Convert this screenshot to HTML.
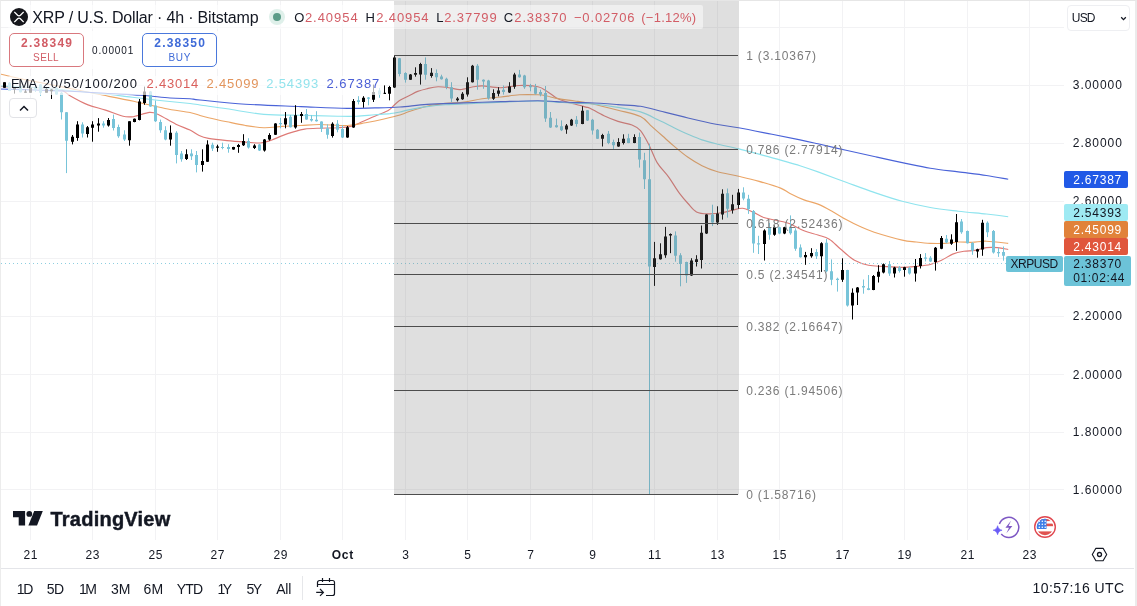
<!DOCTYPE html>
<html lang="en"><head><meta charset="utf-8"><title>XRP / U.S. Dollar · 4h · Bitstamp</title><style>
html,body{margin:0;padding:0;background:#fff}
body{width:1137px;height:606px;overflow:hidden;font-family:"Liberation Sans",sans-serif}
#app{position:relative;width:1137px;height:606px;overflow:hidden;background:#fff}
#frame{position:absolute;left:0;top:0;width:1134px;height:605px;border-top:1px solid #e6e6e6;border-left:1px solid #ececec;border-right:2px solid #ebebeb;pointer-events:none}
#chart{position:absolute;left:0;top:0}
.t{position:absolute;line-height:1;white-space:nowrap}
.abs{position:absolute}
.btn{position:absolute;box-sizing:border-box;border:1px solid #ccc;border-radius:5px}
.plab{position:absolute;border-radius:2px}
.lgbg{position:absolute;background:rgba(255,255,255,.68);border-radius:2px}
</style></head>
<body><div id="app">
<svg id="chart" width="1137" height="606" viewBox="0 0 1137 606">
<g stroke="#f2f2f4" stroke-width="1" shape-rendering="crispEdges"><line x1="30.5" y1="1" x2="30.5" y2="540"/><line x1="92.5" y1="1" x2="92.5" y2="540"/><line x1="155.5" y1="1" x2="155.5" y2="540"/><line x1="217.5" y1="1" x2="217.5" y2="540"/><line x1="280.5" y1="1" x2="280.5" y2="540"/><line x1="342.5" y1="1" x2="342.5" y2="540"/><line x1="405.5" y1="1" x2="405.5" y2="540"/><line x1="467.5" y1="1" x2="467.5" y2="540"/><line x1="530.5" y1="1" x2="530.5" y2="540"/><line x1="592.5" y1="1" x2="592.5" y2="540"/><line x1="654.5" y1="1" x2="654.5" y2="540"/><line x1="717.5" y1="1" x2="717.5" y2="540"/><line x1="779.5" y1="1" x2="779.5" y2="540"/><line x1="842.5" y1="1" x2="842.5" y2="540"/><line x1="904.5" y1="1" x2="904.5" y2="540"/><line x1="967.5" y1="1" x2="967.5" y2="540"/><line x1="1029.5" y1="1" x2="1029.5" y2="540"/><line x1="1" y1="27.5" x2="1064" y2="27.5"/><line x1="1" y1="85.5" x2="1064" y2="85.5"/><line x1="1" y1="143.5" x2="1064" y2="143.5"/><line x1="1" y1="201.5" x2="1064" y2="201.5"/><line x1="1" y1="258.5" x2="1064" y2="258.5"/><line x1="1" y1="316.5" x2="1064" y2="316.5"/><line x1="1" y1="374.5" x2="1064" y2="374.5"/><line x1="1" y1="432.5" x2="1064" y2="432.5"/><line x1="1" y1="489.5" x2="1064" y2="489.5"/></g>
<path d="M0.0 86.5C5.0 86.7 21.7 87.2 30.0 87.5C38.3 87.8 44.7 88.1 50.0 88.5C55.3 88.9 58.2 88.7 61.6 89.9C65.0 91.2 66.0 93.5 70.4 96.0C74.8 98.5 82.2 102.6 88.0 104.9C93.8 107.2 99.7 108.2 105.5 110.1C111.3 112.0 118.4 115.2 123.1 116.3C127.8 117.4 129.3 117.2 133.7 116.6C138.1 115.9 145.4 112.8 149.5 112.4C153.6 112.1 153.9 112.5 158.3 114.5C162.7 116.5 170.6 121.6 175.9 124.2C181.2 126.8 186.1 128.2 190.0 130.1C193.9 132.0 196.1 134.2 199.2 135.6C202.3 137.0 203.9 137.6 208.5 138.4C213.1 139.2 220.8 140.0 227.0 140.6C233.2 141.2 240.0 141.7 245.5 142.1C251.0 142.5 255.9 143.3 260.2 143.0C264.5 142.7 267.6 141.4 271.3 140.2C275.0 139.0 278.7 137.0 282.4 135.6C286.1 134.2 289.8 133.0 293.5 131.9C297.2 130.8 300.3 129.7 304.6 129.1C308.9 128.5 313.8 128.4 319.4 128.2C324.9 128.0 332.7 128.0 337.9 127.7C343.1 127.4 347.1 127.2 350.8 126.4C354.5 125.6 356.0 124.4 360.0 122.7C364.0 121.0 370.2 118.2 374.8 116.2C379.4 114.2 384.7 112.4 387.8 110.7C390.9 109.0 391.4 107.7 393.3 106.0C395.2 104.3 396.7 102.4 399.2 100.7C401.7 99.0 405.4 97.5 408.5 96.0C411.6 94.5 414.6 92.6 417.7 91.4C420.8 90.2 423.6 89.5 427.0 88.7C430.4 87.9 434.1 86.9 438.1 86.8C442.1 86.7 447.3 87.6 451.0 88.1C454.7 88.6 456.5 89.8 460.2 89.6C463.9 89.4 469.5 87.4 473.2 86.8C476.9 86.2 477.8 85.8 482.4 85.9C487.0 86.1 494.7 87.8 500.9 87.7C507.1 87.6 513.2 85.7 519.4 85.5C525.6 85.3 533.3 85.8 537.9 86.8C542.5 87.8 544.0 89.6 547.1 91.4C550.2 93.2 553.3 96.2 556.4 97.9C559.5 99.6 562.5 100.6 565.6 101.6C568.7 102.6 571.4 103.1 574.8 104.0C578.2 104.9 583.4 106.4 585.9 107.1C588.4 107.8 587.0 106.8 590.0 108.2C593.0 109.7 599.3 113.6 604.0 115.8C608.7 118.0 613.3 119.9 618.0 121.4C622.7 122.9 628.2 123.5 632.0 125.0C635.8 126.5 637.7 127.3 640.5 130.6C643.3 133.9 646.1 139.3 648.9 144.7C651.7 150.1 654.0 157.5 657.3 162.9C660.6 168.3 664.8 171.8 668.5 176.9C672.2 182.0 676.5 189.3 679.7 193.7C683.0 198.1 685.2 200.5 688.0 203.5C690.8 206.5 693.2 210.2 696.5 211.9C699.8 213.6 703.5 213.8 707.7 213.9C711.9 214.1 717.6 213.5 721.8 212.8C726.0 212.2 729.5 210.8 733.0 210.0C736.5 209.2 739.5 208.0 742.8 208.3C746.1 208.6 749.1 210.4 752.6 211.9C756.1 213.4 759.1 215.9 763.8 217.5C768.5 219.1 776.2 220.1 780.6 221.2C785.0 222.2 786.1 222.2 790.0 223.8C793.9 225.4 799.3 228.9 804.0 230.8C808.7 232.7 813.8 233.6 818.0 235.0C822.2 236.4 825.5 236.9 829.3 239.2C833.0 241.5 836.3 245.5 840.5 249.0C844.7 252.5 849.8 257.6 854.5 260.3C859.2 263.0 863.8 264.3 868.5 265.3C873.2 266.3 877.0 266.1 882.6 266.4C888.2 266.7 896.6 267.3 902.2 267.3C907.8 267.3 911.5 266.9 916.2 266.4C920.9 265.9 926.1 265.5 930.3 264.5C934.5 263.5 937.8 262.0 941.5 260.3C945.2 258.6 949.0 255.6 952.7 254.1C956.4 252.6 960.2 251.9 963.9 251.3C967.6 250.7 971.4 251.0 975.1 250.4C978.9 249.8 982.6 248.1 986.4 247.6C990.1 247.1 994.0 247.3 997.6 247.6C1001.2 247.9 1006.4 249.2 1008.2 249.5" fill="none" stroke="#de7a76" stroke-width="1.15" stroke-linejoin="round"/>
<path d="M0.0 74.0C3.2 74.8 12.6 77.1 19.3 78.5C26.0 79.9 33.2 81.2 40.0 82.5C46.8 83.8 53.3 85.2 60.0 86.5C66.7 87.8 73.6 89.2 80.0 90.5C86.4 91.8 89.5 92.5 98.5 94.3C107.5 96.1 122.6 98.9 133.7 101.3C144.8 103.7 155.6 106.6 165.0 108.5C174.4 110.4 184.2 111.3 190.0 112.5C195.8 113.7 196.9 114.6 200.0 115.5C203.1 116.4 204.0 116.7 208.5 117.7C213.0 118.8 220.8 120.5 227.0 121.8C233.2 123.1 239.3 124.5 245.5 125.5C251.7 126.5 257.8 127.5 263.9 127.7C270.0 127.9 276.2 126.8 282.4 126.4C288.6 126.0 294.7 125.8 300.9 125.5C307.1 125.2 311.7 124.5 319.4 124.5C327.1 124.5 339.4 125.8 347.1 125.5C354.8 125.2 359.5 123.8 365.6 122.7C371.8 121.6 378.3 120.3 384.0 119.0C389.7 117.7 395.9 116.2 400.0 115.0C404.1 113.8 404.0 113.3 408.5 111.8C413.0 110.3 420.8 107.6 427.0 106.2C433.2 104.8 439.4 104.1 445.5 103.4C451.6 102.7 457.8 102.9 463.9 102.1C470.0 101.3 476.2 99.6 482.4 98.8C488.6 98.0 494.7 97.7 500.9 97.0C507.1 96.3 513.2 95.2 519.4 94.8C525.6 94.4 533.3 94.6 537.9 94.8C542.5 95.0 544.0 95.4 547.1 96.0C550.2 96.6 551.8 97.6 556.4 98.4C561.0 99.2 569.2 100.2 574.8 101.0C580.4 101.8 582.8 102.0 590.0 103.5C597.2 105.0 609.6 108.0 618.0 110.2C626.4 112.4 634.9 113.9 640.5 116.6C646.1 119.3 648.0 123.1 651.7 126.4C655.4 129.7 659.2 133.0 662.9 136.3C666.6 139.6 669.8 142.6 674.0 146.1C678.2 149.6 683.3 154.0 688.0 157.3C692.7 160.6 697.3 163.4 702.0 165.7C706.7 168.0 709.9 169.5 716.0 171.3C722.1 173.1 731.6 174.7 738.6 176.3C745.6 177.9 751.2 179.1 758.2 181.1C765.2 183.1 775.3 186.0 780.6 188.1C785.9 190.2 786.1 191.5 790.0 193.5C793.9 195.5 799.3 198.1 804.0 199.9C808.7 201.7 813.3 202.2 818.0 204.1C822.7 206.0 827.3 208.6 832.0 211.2C836.7 213.8 841.4 217.0 846.1 219.6C850.8 222.2 855.4 224.5 860.1 226.6C864.8 228.7 867.2 229.9 874.2 232.2C881.2 234.4 895.2 238.5 902.2 240.1C909.2 241.7 911.5 241.4 916.2 242.0C920.9 242.6 925.6 243.2 930.3 243.4C935.0 243.6 939.6 243.6 944.3 243.4C949.0 243.2 953.6 242.2 958.3 242.0C963.0 241.8 967.6 242.4 972.3 242.3C977.0 242.2 980.4 241.0 986.4 241.2C992.4 241.4 1004.6 243.0 1008.2 243.4" fill="none" stroke="#eca667" stroke-width="1.15" stroke-linejoin="round"/>
<path d="M0.0 86.0C5.8 86.2 23.3 86.8 35.0 87.5C46.7 88.2 59.2 89.5 70.0 90.5C80.8 91.5 91.2 92.6 100.0 93.5C108.8 94.4 113.0 94.9 123.0 96.1C133.0 97.3 148.8 99.3 160.0 100.5C171.2 101.7 183.3 102.8 190.0 103.5C196.7 104.2 193.8 104.1 200.0 105.0C206.2 105.9 216.3 107.2 227.0 108.8C237.7 110.4 251.6 113.3 263.9 114.4C276.2 115.5 288.6 115.0 300.9 115.3C313.2 115.6 328.6 116.0 337.9 116.2C347.1 116.4 350.2 116.5 356.4 116.2C362.5 116.0 369.2 115.1 374.8 114.7C380.4 114.3 385.8 114.0 390.0 113.6C394.2 113.1 396.9 112.6 400.0 112.0C403.1 111.4 404.0 110.8 408.5 109.9C413.0 109.0 420.8 107.5 427.0 106.6C433.2 105.7 439.4 105.1 445.5 104.7C451.6 104.3 454.7 104.4 463.9 104.0C473.1 103.6 488.6 102.6 500.9 102.1C513.2 101.6 528.6 101.0 537.9 101.0C547.1 101.0 550.2 101.7 556.4 102.1C562.5 102.5 569.2 103.0 574.8 103.3C580.4 103.6 582.8 103.0 590.0 103.7C597.2 104.4 609.6 106.0 618.0 107.4C626.4 108.8 633.5 109.7 640.5 111.9C647.5 114.1 654.4 118.2 660.0 120.8C665.6 123.4 669.3 125.5 674.0 127.8C678.7 130.1 683.3 132.3 688.0 134.3C692.7 136.3 697.3 138.3 702.0 139.9C706.7 141.5 709.9 142.3 716.0 143.8C722.1 145.3 731.6 147.2 738.6 148.9C745.6 150.6 751.0 152.0 758.0 153.9C765.0 155.8 773.6 158.1 780.6 160.1C787.6 162.1 793.8 163.7 800.0 165.7C806.2 167.7 810.3 169.1 818.0 171.9C825.7 174.7 836.7 178.9 846.1 182.3C855.5 185.7 864.9 189.2 874.2 192.4C883.6 195.6 892.9 198.8 902.2 201.3C911.6 203.8 920.9 205.8 930.3 207.5C939.6 209.2 948.9 210.1 958.3 211.2C967.6 212.3 978.1 213.1 986.4 214.0C994.7 214.9 1004.6 216.2 1008.2 216.7" fill="none" stroke="#8fe4ee" stroke-width="1.15" stroke-linejoin="round"/>
<path d="M0.0 89.0C5.8 89.2 23.3 89.6 35.0 90.0C46.7 90.4 58.3 90.8 70.0 91.3C81.7 91.8 93.2 92.6 105.0 93.3C116.8 94.0 129.9 94.4 140.7 95.2C151.5 96.0 161.8 97.4 170.0 98.0C178.2 98.6 185.0 98.4 190.0 98.7C195.0 99.0 190.8 99.1 200.0 100.0C209.2 100.9 228.7 103.1 245.5 104.2C262.3 105.3 284.0 105.9 300.9 106.6C317.8 107.3 334.8 108.2 347.1 108.4C359.4 108.6 366.0 108.1 374.8 107.9C383.6 107.7 391.3 107.6 400.0 107.0C408.7 106.4 416.4 105.1 427.0 104.4C437.6 103.7 451.6 103.4 463.9 102.9C476.2 102.4 488.6 102.0 500.9 101.6C513.2 101.2 528.6 100.7 537.9 100.7C547.1 100.7 550.2 101.3 556.4 101.6C562.5 101.9 569.2 102.4 574.8 102.6C580.4 102.8 582.8 102.5 590.0 102.8C597.2 103.1 609.6 104.0 618.0 104.6C626.4 105.2 633.5 105.2 640.5 106.3C647.5 107.4 652.1 109.0 660.0 111.0C667.9 113.0 678.7 115.8 688.0 118.0C697.3 120.2 707.6 122.6 716.0 124.2C724.4 125.8 729.3 126.1 738.6 127.8C747.9 129.5 761.8 132.3 772.0 134.3C782.2 136.3 792.3 138.3 800.0 139.9C807.7 141.5 810.3 142.1 818.0 143.8C825.7 145.5 836.7 148.2 846.1 150.3C855.5 152.4 864.9 154.4 874.2 156.5C883.6 158.6 892.9 160.7 902.2 162.6C911.6 164.5 920.9 166.6 930.3 168.2C939.6 169.8 948.9 170.7 958.3 171.9C967.6 173.1 978.1 174.3 986.4 175.5C994.7 176.7 1004.6 178.7 1008.2 179.3" fill="none" stroke="#4a63d8" stroke-width="1.15" stroke-linejoin="round"/>
<line x1="1" y1="263.5" x2="1064" y2="263.5" stroke="#8ecfe0" stroke-width="1" stroke-dasharray="1 3" shape-rendering="crispEdges"/>
<g id="candles"><path d="M9.5 82.0V91.0M20.5 85.9V92.5M35.5 86.0V92.0M40.5 84.0V95.9M56.5 87.5V94.7M61.5 92.0V119.5M66.5 112.0V173.1M82.5 122.3V137.5M103.5 121.2V127.7M113.5 114.6V130.5M118.5 124.6V137.8M124.5 130.3V141.0M150.5 91.0V106.8M155.5 100.6V122.0M160.5 119.6V132.8M165.5 126.2V140.3M176.5 131.2V163.4M181.5 151.0V161.7M191.5 149.3V160.0M196.5 151.0V172.4M212.5 142.7V151.0M222.5 142.7V149.3M228.5 144.2V152.7M248.5 138.2V148.6M259.5 144.0V151.0M280.5 117.9V128.3M290.5 115.0V127.5M306.5 109.0V119.8M311.5 115.3V121.6M316.5 111.2V121.6M321.5 121.3V132.0M327.5 124.3V138.7M337.5 120.1V132.3M342.5 125.3V138.0M358.5 96.2V104.4M368.5 97.0V105.3M379.5 87.9V97.8M399.5 57.9V76.4M405.5 72.2V82.6M425.5 57.4V79.7M436.5 69.4V81.3M441.5 74.7V79.6M446.5 77.7V89.2M451.5 82.2V102.0M477.5 64.1V89.7M483.5 79.4V88.8M488.5 79.8V99.6M503.5 85.5V94.6M519.5 69.9V77.6M524.5 74.8V88.8M530.5 83.9V91.3M535.5 83.9V94.6M540.5 89.7V96.3M545.5 86.0V121.9M550.5 112.0V128.0M556.5 118.6V127.6M561.5 120.4V131.1M576.5 116.1V126.7M587.5 110.0V121.0M592.5 118.9V134.6M597.5 129.0V139.0M608.5 131.0V144.2M613.5 139.6V149.5M628.5 133.8V143.2M639.5 132.6V167.6M644.5 152.8V189.0M649.5 143.7V494.0M675.5 231.4V261.7M680.5 253.2V286.3M686.5 261.7V282.9M712.5 204.7V226.1M727.5 188.5V217.6M743.5 187.3V200.3M748.5 194.8V213.9M753.5 210.0V252.8M758.5 235.8V254.0M769.5 222.9V239.7M779.5 226.8V234.2M790.5 215.4V234.7M795.5 228.3V250.8M800.5 244.4V257.6M816.5 249.1V259.0M826.5 239.0V272.3M831.5 259.4V285.2M837.5 277.7V291.6M847.5 269.8V306.6M863.5 279.5V293.7M868.5 275.0V290.2M889.5 261.0V275.9M899.5 266.0V272.6M909.5 266.8V274.6M925.5 253.1V261.4M930.5 256.1V261.9M946.5 235.0V243.2M961.5 219.0V233.8M967.5 230.5V243.6M972.5 242.1V254.8M987.5 221.4V237.1M993.5 230.0V253.6M998.5 247.8V256.9M1003.5 246.5V260.7" stroke="#78c4d9" stroke-width="1" fill="none"/><path d="M8 82.7h3V90.9h-3zM19 86.0h3V92.3h-3zM34 87.0h3V90.0h-3zM39 84.5h3V92.7h-3zM55 87.7h3V94.5h-3zM60 92.7h3V112.2h-3zM65 112.2h3V140.8h-3zM81 124.5h3V133.5h-3zM102 123.6h3V125.4h-3zM112 118.9h3V128.0h-3zM117 127.0h3V136.2h-3zM123 134.5h3V139.4h-3zM149 91.5h3V106.4h-3zM154 105.6h3V121.3h-3zM159 122.0h3V130.3h-3zM164 130.3h3V139.4h-3zM175 132.8h3V155.1h-3zM180 153.5h3V159.2h-3zM190 153.5h3V156.3h-3zM195 155.1h3V165.0h-3zM211 144.7h3V148.5h-3zM221 146.9h3V147.9h-3zM227 147.0h3V149.0h-3zM247 140.9h3V147.6h-3zM258 144.6h3V150.5h-3zM279 123.0h3V124.3h-3zM289 116.8h3V127.2h-3zM305 113.9h3V119.4h-3zM310 118.9h3V120.4h-3zM315 119.8h3V121.3h-3zM320 121.6h3V128.7h-3zM326 128.3h3V134.7h-3zM336 123.8h3V129.8h-3zM341 129.0h3V137.6h-3zM357 100.3h3V102.0h-3zM367 97.5h3V98.8h-3zM378 90.4h3V94.5h-3zM398 58.2h3V73.9h-3zM404 73.0h3V79.7h-3zM424 64.0h3V74.7h-3zM435 73.0h3V77.2h-3zM440 76.4h3V79.3h-3zM445 78.8h3V87.1h-3zM450 87.2h3V98.5h-3zM476 65.7h3V79.8h-3zM482 79.8h3V81.4h-3zM487 80.6h3V98.2h-3zM502 89.7h3V92.1h-3zM518 74.5h3V77.3h-3zM523 75.6h3V87.2h-3zM529 85.5h3V87.2h-3zM534 87.2h3V93.8h-3zM539 92.1h3V94.6h-3zM544 93.0h3V118.6h-3zM549 117.7h3V127.6h-3zM555 125.2h3V127.3h-3zM560 126.2h3V130.3h-3zM575 119.8h3V123.9h-3zM586 110.2h3V120.6h-3zM591 119.8h3V130.5h-3zM596 129.7h3V138.7h-3zM607 133.8h3V142.9h-3zM612 142.0h3V145.3h-3zM627 138.2h3V142.9h-3zM638 137.1h3V159.4h-3zM643 160.2h3V179.2h-3zM648 179.2h3V266.5h-3zM674 235.4h3V255.8h-3zM679 255.2h3V264.1h-3zM685 262.1h3V275.6h-3zM711 214.6h3V222.5h-3zM726 193.2h3V208.7h-3zM742 192.4h3V198.4h-3zM747 198.8h3V209.0h-3zM752 210.9h3V243.6h-3zM757 243.3h3V244.6h-3zM768 227.2h3V234.7h-3zM778 227.2h3V233.6h-3zM789 226.8h3V233.2h-3zM794 230.4h3V248.7h-3zM799 247.6h3V257.3h-3zM815 251.9h3V256.2h-3zM825 242.7h3V271.2h-3zM830 271.2h3V279.8h-3zM836 278.7h3V280.0h-3zM846 270.1h3V305.6h-3zM862 286.1h3V287.4h-3zM867 288.2h3V289.9h-3zM888 264.3h3V273.4h-3zM898 267.6h3V270.9h-3zM908 268.0h3V273.4h-3zM924 257.4h3V258.7h-3zM929 257.7h3V261.4h-3zM945 238.8h3V242.6h-3zM960 221.4h3V232.2h-3zM966 231.0h3V243.2h-3zM971 242.9h3V250.8h-3zM986 222.8h3V232.2h-3zM992 231.0h3V252.5h-3zM997 252.0h3V253.2h-3zM1002 252.0h3V255.8h-3z" fill="#78c4d9"/><path d="M4.5 82.3V87.8M14.5 87.7V93.6M25.5 89.5V92.7M30.5 85.0V92.7M46.5 87.7V92.7M51.5 89.0V99.0M72.5 135.0V144.4M77.5 121.2V140.8M87.5 126.0V137.5M92.5 121.2V141.7M98.5 118.1V131.7M108.5 118.0V126.6M129.5 121.3V145.7M134.5 118.5V122.3M139.5 99.0V120.4M144.5 86.6V104.8M170.5 125.4V145.7M186.5 149.3V160.0M202.5 149.3V171.6M207.5 140.3V162.0M217.5 144.7V151.8M233.5 146.8V149.8M238.5 143.9V152.8M243.5 134.2V146.0M254.5 144.2V149.0M264.5 139.0V151.6M269.5 133.2V140.6M275.5 123.2V135.0M285.5 112.0V128.3M295.5 105.2V128.7M301.5 112.0V122.8M332.5 122.3V137.6M347.5 126.0V137.8M353.5 99.1V127.8M363.5 96.2V107.7M373.5 84.6V102.0M384.5 85.4V94.0M389.5 85.9V100.3M394.5 55.2V88.0M410.5 74.0V80.0M415.5 67.3V76.7M420.5 62.8V84.6M431.5 68.1V77.7M457.5 97.1V101.5M462.5 92.1V99.9M467.5 77.3V96.6M472.5 64.9V82.5M493.5 89.3V99.9M498.5 87.2V96.3M509.5 82.2V93.0M514.5 72.8V88.8M566.5 124.0V133.8M571.5 118.9V126.0M582.5 106.2V124.2M602.5 133.8V146.5M618.5 138.2V146.8M623.5 134.3V144.5M634.5 134.3V143.2M654.5 241.9V285.9M660.5 243.3V259.6M665.5 226.9V257.8M670.5 233.4V253.2M691.5 258.2V276.0M696.5 255.2V266.5M701.5 225.5V268.5M706.5 214.2V234.0M717.5 206.3V224.9M722.5 189.3V219.6M732.5 194.8V213.6M738.5 188.9V208.7M764.5 229.3V260.5M774.5 225.5V235.8M784.5 226.8V234.2M805.5 251.9V264.8M811.5 248.2V257.7M821.5 242.2V271.9M842.5 258.3V281.9M852.5 288.4V319.5M857.5 287.0V305.0M873.5 275.0V290.2M878.5 265.2V282.5M883.5 263.5V273.4M894.5 266.8V277.5M904.5 266.8V276.7M915.5 259.0V281.6M920.5 254.1V268.5M935.5 247.0V270.6M941.5 236.0V249.2M951.5 234.3V244.9M956.5 214.0V250.8M977.5 248.7V257.7M982.5 219.8V255.8" stroke="#000000" stroke-width="1" fill="none"/><path d="M3 82.3h3V87.8h-3zM13 87.7h3V89.5h-3zM24 91.5h3V92.7h-3zM29 87.7h3V92.7h-3zM45 89.0h3V92.7h-3zM50 89.5h3V91.3h-3zM71 136.8h3V141.7h-3zM76 124.5h3V138.0h-3zM86 127.2h3V133.9h-3zM91 124.5h3V127.7h-3zM97 123.6h3V125.4h-3zM107 120.0h3V125.4h-3zM128 121.3h3V140.3h-3zM133 118.8h3V122.0h-3zM138 101.5h3V120.0h-3zM143 91.5h3V103.1h-3zM169 132.8h3V139.4h-3zM185 154.3h3V158.9h-3zM201 160.9h3V165.0h-3zM206 144.4h3V161.7h-3zM216 146.4h3V147.7h-3zM232 147.1h3V149.5h-3zM237 145.0h3V147.1h-3zM242 140.9h3V145.3h-3zM253 145.6h3V148.0h-3zM263 139.4h3V150.5h-3zM268 135.0h3V139.4h-3zM274 123.4h3V134.7h-3zM284 118.3h3V124.6h-3zM294 115.3h3V127.5h-3zM300 113.9h3V116.0h-3zM331 123.8h3V136.1h-3zM346 127.2h3V137.4h-3zM352 101.1h3V127.5h-3zM362 97.8h3V102.0h-3zM372 92.0h3V99.8h-3zM383 92.7h3V93.9h-3zM388 87.1h3V93.7h-3zM393 57.4h3V87.6h-3zM409 74.4h3V79.7h-3zM414 73.0h3V74.7h-3zM419 64.0h3V74.4h-3zM430 72.7h3V76.0h-3zM456 98.5h3V100.2h-3zM461 93.8h3V99.2h-3zM466 82.2h3V94.6h-3zM471 65.7h3V82.2h-3zM492 93.0h3V98.7h-3zM497 90.5h3V93.8h-3zM508 86.4h3V92.6h-3zM513 74.5h3V86.7h-3zM565 125.4h3V129.5h-3zM570 119.8h3V125.5h-3zM581 110.7h3V123.9h-3zM601 134.9h3V138.7h-3zM617 142.0h3V146.5h-3zM622 138.7h3V142.9h-3zM633 137.1h3V142.9h-3zM653 258.2h3V267.1h-3zM659 254.2h3V259.2h-3zM664 236.4h3V255.2h-3zM669 234.0h3V235.6h-3zM690 260.5h3V275.6h-3zM695 259.2h3V262.1h-3zM700 232.8h3V260.1h-3zM705 214.6h3V233.4h-3zM716 213.6h3V222.5h-3zM721 193.8h3V214.6h-3zM731 204.3h3V210.2h-3zM737 192.4h3V205.1h-3zM763 230.4h3V243.9h-3zM773 227.2h3V234.7h-3zM783 227.2h3V233.6h-3zM804 255.1h3V257.3h-3zM810 253.0h3V256.2h-3zM820 243.3h3V256.2h-3zM841 270.1h3V279.8h-3zM851 292.7h3V305.6h-3zM856 287.4h3V292.5h-3zM872 275.9h3V289.9h-3zM877 271.8h3V276.7h-3zM882 264.3h3V272.6h-3zM893 267.6h3V273.4h-3zM903 267.3h3V270.1h-3zM914 266.0h3V273.4h-3zM919 258.0h3V266.0h-3zM934 247.8h3V261.9h-3zM940 237.9h3V248.7h-3zM950 239.6h3V243.7h-3zM955 222.3h3V242.1h-3zM976 249.2h3V251.5h-3zM981 222.8h3V249.5h-3z" fill="#000000"/></g>
<rect x="394" y="1" width="345" height="493.5" fill="#787878" fill-opacity="0.235"/>
<g stroke="#4d4d4d" stroke-width="1" shape-rendering="crispEdges"><line x1="394" y1="55.5" x2="737.5" y2="55.5"/><line x1="394" y1="149.5" x2="737.5" y2="149.5"/><line x1="394" y1="223.5" x2="737.5" y2="223.5"/><line x1="394" y1="274.5" x2="737.5" y2="274.5"/><line x1="394" y1="326.5" x2="737.5" y2="326.5"/><line x1="394" y1="390.5" x2="737.5" y2="390.5"/><line x1="394" y1="494.5" x2="737.5" y2="494.5"/></g>
</svg>
<div id="fib-labels"><span class="t" style="left:746.20px;top:50px;font-size:12px;color:#7b7b7b;letter-spacing:0.832px;">1 (3.10367)</span><span class="t" style="left:746.20px;top:144px;font-size:12px;color:#7b7b7b;letter-spacing:0.832px;">0.786 (2.77914)</span><span class="t" style="left:746.20px;top:218px;font-size:12px;color:#7b7b7b;letter-spacing:0.832px;">0.618 (2.52436)</span><span class="t" style="left:746.20px;top:269px;font-size:12px;color:#7b7b7b;letter-spacing:0.832px;">0.5 (2.34541)</span><span class="t" style="left:746.20px;top:321px;font-size:12px;color:#7b7b7b;letter-spacing:0.832px;">0.382 (2.16647)</span><span class="t" style="left:746.20px;top:385px;font-size:12px;color:#7b7b7b;letter-spacing:0.832px;">0.236 (1.94506)</span><span class="t" style="left:746.20px;top:489px;font-size:12px;color:#7b7b7b;letter-spacing:0.832px;">0 (1.58716)</span></div>
<div id="legend"><div class="lgbg" style="left:8px;top:5px;width:695px;height:24px;background:rgba(255,255,255,.5)"></div>
<div class="lgbg" style="left:8px;top:76px;width:376px;height:19px"></div>
<div class="lgbg" style="left:8px;top:31px;width:211px;height:38px;background:rgba(255,255,255,.8)"></div>
<svg class="abs" style="left:10px;top:8px" width="18" height="18" viewBox="0 0 18 18"><circle cx="9" cy="9" r="9" fill="#16171c"/><path d="M4.3 3.9L7.6 7.3Q9 8.5 10.400 7.300L13.700 3.900M4.300 14.100L7.600 10.700Q9 9.500 10.400 10.700L13.700 14.100" fill="none" stroke="#fff" stroke-width="1.35"/></svg>
<span class="t" style="left:32.30px;top:10px;font-size:16px;color:#131722;letter-spacing:-0.170px;">XRP / U.S. Dollar · 4h · Bitstamp</span>
<div class="abs" style="left:268.5px;top:9px;width:16px;height:16px;border-radius:50%;background:#dff0ea"></div><div class="abs" style="left:272.5px;top:13px;width:8px;height:8px;border-radius:50%;background:#5b9c88"></div>
<span class="t" style="left:294.30px;top:11px;font-size:13px;color:#131722;">O</span>
<span class="t" style="left:304.90px;top:11px;font-size:13px;color:#d25d66;letter-spacing:0.967px;">2.40954</span>
<span class="t" style="left:365.60px;top:11px;font-size:13px;color:#131722;">H</span>
<span class="t" style="left:376.20px;top:11px;font-size:13px;color:#d25d66;letter-spacing:0.900px;">2.40954</span>
<span class="t" style="left:436.30px;top:11px;font-size:13px;color:#131722;">L</span>
<span class="t" style="left:444.20px;top:11px;font-size:13px;color:#d25d66;letter-spacing:0.917px;">2.37799</span>
<span class="t" style="left:503.80px;top:11px;font-size:13px;color:#131722;">C</span>
<span class="t" style="left:514.30px;top:11px;font-size:13px;color:#d25d66;letter-spacing:0.867px;">2.38370</span>
<span class="t" style="left:573.90px;top:11px;font-size:13px;color:#d25d66;letter-spacing:0.868px;">−0.02706</span>
<span class="t" style="left:641.20px;top:11px;font-size:13px;color:#d25d66;letter-spacing:0.268px;">(−1.12%)</span>
<div class="btn" style="left:9px;top:33px;width:75px;height:34px;border-color:#d9787e"></div>
<span class="t" style="left:21.10px;top:37px;font-size:12px;color:#d25d66;letter-spacing:1.254px;font-weight:700;">2.38349</span>
<span class="t" style="left:33.10px;top:53px;font-size:10px;color:#d25d66;letter-spacing:0.367px;">SELL</span>
<span class="t" style="left:92.10px;top:46px;font-size:10px;color:#131722;letter-spacing:0.829px;">0.00001</span>
<div class="btn" style="left:142px;top:33px;width:75px;height:34px;border-color:#4a78dc"></div>
<span class="t" style="left:154.30px;top:37px;font-size:12px;color:#3f6bd8;letter-spacing:1.188px;font-weight:700;">2.38350</span>
<span class="t" style="left:168.40px;top:53px;font-size:10px;color:#3f6bd8;letter-spacing:0.787px;">BUY</span>
<span class="t" style="left:10.90px;top:77px;font-size:13px;color:#131722;letter-spacing:-0.975px;">EMA</span>
<span class="t" style="left:42.70px;top:77px;font-size:13px;color:#131722;letter-spacing:0.931px;">20/50/100/200</span>
<span class="t" style="left:146.60px;top:77px;font-size:13px;color:#d9605c;letter-spacing:0.783px;">2.43014</span>
<span class="t" style="left:206.50px;top:77px;font-size:13px;color:#e2945c;letter-spacing:0.833px;">2.45099</span>
<span class="t" style="left:266.20px;top:77px;font-size:13px;color:#93e3ec;letter-spacing:0.850px;">2.54393</span>
<span class="t" style="left:326.60px;top:77px;font-size:13px;color:#4b5fd6;letter-spacing:0.950px;">2.67387</span>
<div class="btn" style="left:9px;top:98px;width:28px;height:20px;border-color:#e2e3e7;border-radius:4px;background:#fff"></div>
<svg class="abs" style="left:17.5px;top:103.500px" width="12" height="9" viewBox="0 0 12 9"><path d="M2 6.5l4-4 4 4" fill="none" stroke="#131722" stroke-width="1.5"/></svg></div>
<div id="price-scale"><span class="t" style="left:1072.80px;top:79px;font-size:12px;color:#131722;letter-spacing:0.954px;">3.00000</span>
<span class="t" style="left:1072.80px;top:137px;font-size:12px;color:#131722;letter-spacing:0.954px;">2.80000</span>
<span class="t" style="left:1072.80px;top:195px;font-size:12px;color:#131722;letter-spacing:0.954px;">2.60000</span>
<span class="t" style="left:1072.80px;top:310px;font-size:12px;color:#131722;letter-spacing:0.954px;">2.20000</span>
<span class="t" style="left:1072.80px;top:369px;font-size:12px;color:#131722;letter-spacing:0.954px;">2.00000</span>
<span class="t" style="left:1072.80px;top:426px;font-size:12px;color:#131722;letter-spacing:0.954px;">1.80000</span>
<span class="t" style="left:1072.80px;top:484px;font-size:12px;color:#131722;letter-spacing:0.954px;">1.60000</span>
<div class="btn" style="left:1067px;top:5px;width:63px;height:26px;border-color:#eeeff2;border-radius:4px"></div>
<span class="t" style="left:1071.80px;top:12px;font-size:12px;color:#131722;letter-spacing:-0.837px;">USD</span>
<svg class="abs" style="left:1119px;top:14px" width="9" height="8" viewBox="0 0 9 8"><path d="M2.200 3.300l2.300 2.300 2.300-2.300" fill="none" stroke="#131722" stroke-width="1.3"/></svg>
<div class="plab" style="left:1064px;top:171px;width:64px;height:17px;background:#2159e6"></div><span class="t" style="left:1073.20px;top:174px;font-size:12px;color:#fff;letter-spacing:0.787px;">2.67387</span>
<div class="plab" style="left:1064px;top:204px;width:64px;height:17px;background:#9eeaf3"></div><span class="t" style="left:1073.20px;top:207px;font-size:12px;color:#131722;letter-spacing:0.787px;">2.54393</span>
<div class="plab" style="left:1064px;top:221px;width:64px;height:17px;background:#e1823a"></div><span class="t" style="left:1073.20px;top:224px;font-size:12px;color:#fff;letter-spacing:0.787px;">2.45099</span>
<div class="plab" style="left:1064px;top:238px;width:64px;height:17px;background:#e0563c"></div><span class="t" style="left:1073.20px;top:241px;font-size:12px;color:#fff;letter-spacing:0.787px;">2.43014</span>
<div class="plab" style="left:1064px;top:255.5px;width:67px;height:30.5px;background:#6cc3d8"></div>
<span class="t" style="left:1073.20px;top:258px;font-size:12px;color:#131722;letter-spacing:0.787px;">2.38370</span>
<span class="t" style="left:1073.20px;top:272px;font-size:12px;color:#131722;letter-spacing:0.650px;">01:02:44</span>
<div class="plab" style="left:1006px;top:255.5px;width:57px;height:16.5px;background:#6cc3d8"></div>
<span class="t" style="left:1010.60px;top:258px;font-size:12px;color:#131722;letter-spacing:-0.480px;">XRPUSD</span></div>
<div id="time-axis"><span class="t" style="left:0.5px;width:60px;text-align:center;top:549px;font-size:12px;letter-spacing:0.7px;text-indent:0.7px;color:#131722;">21</span>
<span class="t" style="left:62.5px;width:60px;text-align:center;top:549px;font-size:12px;letter-spacing:0.7px;text-indent:0.7px;color:#131722;">23</span>
<span class="t" style="left:125.5px;width:60px;text-align:center;top:549px;font-size:12px;letter-spacing:0.7px;text-indent:0.7px;color:#131722;">25</span>
<span class="t" style="left:187.5px;width:60px;text-align:center;top:549px;font-size:12px;letter-spacing:0.7px;text-indent:0.7px;color:#131722;">27</span>
<span class="t" style="left:250.5px;width:60px;text-align:center;top:549px;font-size:12px;letter-spacing:0.7px;text-indent:0.7px;color:#131722;">29</span>
<span class="t" style="left:312.5px;width:60px;text-align:center;top:549px;font-size:12px;letter-spacing:0.7px;text-indent:0.7px;color:#131722;font-weight:700;">Oct</span>
<span class="t" style="left:375.5px;width:60px;text-align:center;top:549px;font-size:12px;letter-spacing:0.7px;text-indent:0.7px;color:#131722;">3</span>
<span class="t" style="left:437.5px;width:60px;text-align:center;top:549px;font-size:12px;letter-spacing:0.7px;text-indent:0.7px;color:#131722;">5</span>
<span class="t" style="left:500.5px;width:60px;text-align:center;top:549px;font-size:12px;letter-spacing:0.7px;text-indent:0.7px;color:#131722;">7</span>
<span class="t" style="left:562.5px;width:60px;text-align:center;top:549px;font-size:12px;letter-spacing:0.7px;text-indent:0.7px;color:#131722;">9</span>
<span class="t" style="left:624.5px;width:60px;text-align:center;top:549px;font-size:12px;letter-spacing:0.7px;text-indent:0.7px;color:#131722;">11</span>
<span class="t" style="left:687.5px;width:60px;text-align:center;top:549px;font-size:12px;letter-spacing:0.7px;text-indent:0.7px;color:#131722;">13</span>
<span class="t" style="left:749.5px;width:60px;text-align:center;top:549px;font-size:12px;letter-spacing:0.7px;text-indent:0.7px;color:#131722;">15</span>
<span class="t" style="left:812.5px;width:60px;text-align:center;top:549px;font-size:12px;letter-spacing:0.7px;text-indent:0.7px;color:#131722;">17</span>
<span class="t" style="left:874.5px;width:60px;text-align:center;top:549px;font-size:12px;letter-spacing:0.7px;text-indent:0.7px;color:#131722;">19</span>
<span class="t" style="left:937.5px;width:60px;text-align:center;top:549px;font-size:12px;letter-spacing:0.7px;text-indent:0.7px;color:#131722;">21</span>
<span class="t" style="left:999.5px;width:60px;text-align:center;top:549px;font-size:12px;letter-spacing:0.7px;text-indent:0.7px;color:#131722;">23</span>
<svg class="abs" style="left:1091px;top:547px" width="17" height="15" viewBox="0 0 17 15"><path d="M4.9 1.3h7.2l3.6 6.2-3.6 6.2H4.9L1.3 7.5z" fill="none" stroke="#131722" stroke-width="1.15" stroke-linejoin="round"/><circle cx="8.5" cy="7.5" r="2" fill="none" stroke="#131722" stroke-width="1.3"/></svg></div>
<div id="watermark"><svg class="abs" style="left:13px;top:511px" width="30" height="15" viewBox="0 0 30 15"><path d="M0 0h12.100v14.600H5.700V6.300H0z" fill="#131722"/><circle cx="16.300" cy="2.900" r="2.900" fill="#131722"/><path d="M21.200 0H29.800L24 14.600H15.400z" fill="#131722"/></svg>
<span class="t" style="left:50.50px;top:509px;font-size:20px;color:#131722;letter-spacing:0.230px;font-weight:700;-webkit-text-stroke:0.45px #131722;">TradingView</span>
<svg class="abs" style="left:992px;top:515px" width="30" height="26" viewBox="0 0 30 26"><g transform="translate(-0.2,-0.6)"><path d="M7.6 9.580A10 10 0 1 1 9.450 19.560" fill="none" stroke="#7e58c4" stroke-width="1.5"/><path d="M19.2 6.3l-5.6 7h3.6l-2.6 5.6 6-7.4h-3.8z" fill="#7e58c4"/><path d="M5.8 11.300c.700 2.700 1.800 3.800 4.500 4.500-2.700.700-3.800 1.800-4.500 4.500-.700-2.700-1.800-3.800-4.500-4.500 2.700-.700 3.800-1.800 4.500-4.500z" fill="#6a5cf6" stroke="#6a5cf6" stroke-width=".6" stroke-linejoin="round"/></g></svg>
<svg class="abs" style="left:1033px;top:515px" width="24" height="24" viewBox="0 0 24 24"><defs><clipPath id="fc"><circle cx="12" cy="12" r="8.3"/></clipPath></defs><g clip-path="url(#fc)"><rect x="3" y="3" width="18" height="18" fill="#fff"/><rect x="3" y="3.5" width="18" height="2.6" fill="#e0524f"/><rect x="3" y="8.6" width="18" height="2.6" fill="#e0524f"/><rect x="3" y="13.8" width="18" height="0" fill="#e0524f"/><rect x="3" y="16.4" width="18" height="4.6" fill="#e0524f"/><rect x="3" y="3" width="10.5" height="11" fill="#3f7fe8"/><g fill="#fff"><circle cx="6.3" cy="6.2" r=".8"/><circle cx="9.3" cy="6.2" r=".8"/><circle cx="12.2" cy="6.2" r=".8"/><circle cx="6.3" cy="9.2" r=".8"/><circle cx="9.3" cy="9.2" r=".8"/><circle cx="12.2" cy="9.2" r=".8"/><circle cx="6.3" cy="12.2" r=".8"/><circle cx="9.3" cy="12.2" r=".8"/><circle cx="12.2" cy="12.2" r=".8"/></g></g><circle cx="12" cy="12" r="10.3" fill="none" stroke="#e0474f" stroke-width="1.4"/></svg></div>
<div id="toolbar"><div class="abs" style="left:0;top:568px;width:1134px;height:1px;background:#e4e5e9"></div>
<span class="t" style="left:16.80px;top:582px;font-size:14px;color:#131722;letter-spacing:-1.375px;">1D</span>
<span class="t" style="left:46.70px;top:582px;font-size:14px;color:#131722;letter-spacing:-0.475px;">5D</span>
<span class="t" style="left:79.00px;top:582px;font-size:14px;color:#131722;letter-spacing:-1.500px;">1M</span>
<span class="t" style="left:110.90px;top:582px;font-size:14px;color:#131722;">3M</span>
<span class="t" style="left:143.50px;top:582px;font-size:14px;color:#131722;letter-spacing:0.100px;">6M</span>
<span class="t" style="left:176.70px;top:582px;font-size:14px;color:#131722;letter-spacing:-0.750px;">YTD</span>
<span class="t" style="left:217.50px;top:582px;font-size:14px;color:#131722;letter-spacing:-2.425px;">1Y</span>
<span class="t" style="left:246.40px;top:582px;font-size:14px;color:#131722;letter-spacing:-1.525px;">5Y</span>
<span class="t" style="left:276.30px;top:582px;font-size:14px;color:#131722;letter-spacing:-0.300px;">All</span>
<div class="abs" style="left:302px;top:576px;width:1px;height:24px;background:#e6e7ea"></div>
<svg class="abs" style="left:315px;top:577px" width="22" height="21" viewBox="0 0 22 21"><path d="M2.5 10V5.500a2 2 0 0 1 2-2H17.500a2 2 0 0 1 2 2V16.500a2 2 0 0 1-2 2H11M2.500 7.500H19.500M7.500 1V5M14.500 1V5M1.200 15.400H8.300M5 12l3.400 3.400L5 18.800" fill="none" stroke="#131722" stroke-width="1.2"/></svg>
<span class="t" style="left:1032.60px;top:581px;font-size:14px;color:#131722;letter-spacing:0.389px;">10:57:16 UTC</span></div>
<div id="frame"></div></div></body></html>
